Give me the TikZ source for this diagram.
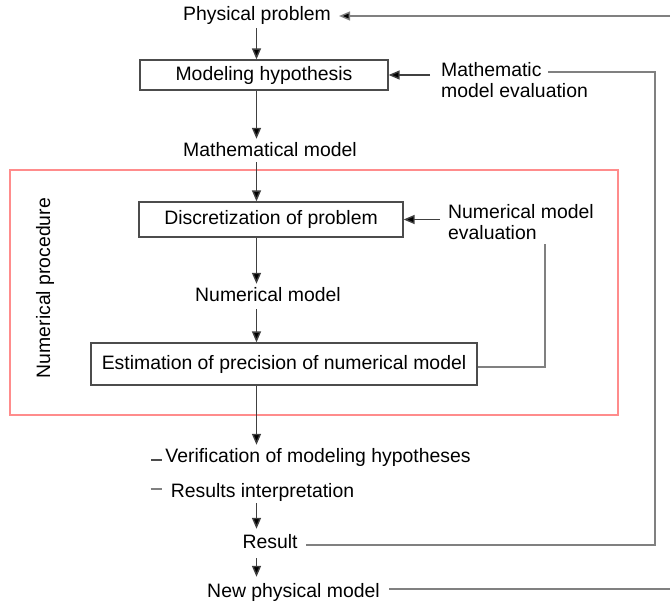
\documentclass[tikz,border=0pt]{standalone}
\usepackage{fontspec}
\setmainfont{Liberation Sans}
\usetikzlibrary{arrows.meta,calc}
\begin{document}
\begin{tikzpicture}[x=1pt,y=-1pt,
  every node/.style={font=\fontsize{19.4}{21.5}\selectfont, inner sep=0pt, text height=14pt, text depth=4pt},
  lbl/.style={},
  procbox/.style={draw=black!70, line width=1.3pt, minimum height=30pt},
  arr/.style={draw=black!75, line width=1.4pt, -{Triangle[length=11pt,width=9pt,fill=black]}},
  feed/.style={draw=black!50, line width=1.4pt},
  frame/.style={draw=red!45, line width=1.1pt}]
\useasboundingbox (0,0) rectangle (670,608);
\coordinate (spine) at (256.5,0);

% main chain
\node[lbl] (pp) at (257,15) {Physical problem};
\node[procbox, minimum width=248pt] (mh) at (264,75) {Modeling hypothesis};
\node[lbl] (mm) at (270,151) {Mathematical model};
\node[frame, minimum width=608pt, minimum height=245pt] (np) at (314,292.5) {};
\node[lbl, rotate=90] (nplabel) at (45,288) {Numerical procedure};
\node[procbox, minimum width=264pt, minimum height=35pt] (dp) at (271,219.5) {Discretization of problem};
\node[lbl] (nm) at (268,296) {Numerical model};
\node[procbox, minimum width=386pt, minimum height=42pt] (ep) at (284,364) {Estimation of precision of numerical model};
\node[lbl] (vh) at (318,457) {Verification of modeling hypotheses};
\node[lbl] (ri) at (262.5,492) {Results interpretation};
\node[lbl] (res) at (270,543) {Result};
\node[lbl] (npm) at (293.5,592) {New physical model};

% evaluation labels
\node[lbl, align=left, anchor=west, text height=, text depth=] (me) at (441,80) {Mathematic\\model evaluation};
\node[lbl, align=left, anchor=west, text height=, text depth=] (ne) at (448,222) {Numerical model\\evaluation};

% feedback routing
\coordinate (meend) at (548,72);
\coordinate (mecorner) at (655,72);
\coordinate (rescorner) at (655,545);
\coordinate (topright) at (670,16);
\coordinate (botright) at (670,589);
\coordinate (nestart) at (545,244);
\coordinate (necorner) at (545,367);

% vertical flow
\draw[arr, shorten <=4pt] (pp.south -| spine) -- (mh.north -| spine);
\draw[arr, shorten >=3pt] (mh.south -| spine) -- (mm.north -| spine);
\draw[arr, shorten <=2pt] (mm.south -| spine) -- (dp.north -| spine);
\draw[arr, shorten >=3pt] (dp.south -| spine) -- (nm.north -| spine);
\draw[arr, shorten <=4pt] (nm.south -| spine) -- (ep.north -| spine);
\draw[arr, shorten >=3pt] (ep.south -| spine) -- (vh.north -| spine);
\draw[arr, shorten <=2pt, shorten >=5pt] (ri.south -| spine) -- (res.north -| spine);
\draw[arr, shorten <=6pt, shorten >=6pt] (res.south -| spine) -- (npm.north -| spine);

% evaluation inputs
\draw[arr, shorten <=11pt] (mh.east -| me.west) -- (mh.east);
\draw[arr, shorten <=8pt] (dp.east -| ne.west) -- (dp.east);

% feedback lines
\draw[feed] (meend) -- (mecorner) -- (rescorner) -- ($(res.east)+(8,2)$);
\draw[feed] (nestart) -- (necorner) -- (necorner -| ep.east);
\draw[feed] (botright) -- ($(npm.east)+(9,-3)$);
\draw[arr, draw=black!50, shorten >=8pt] (topright) -- (topright -| pp.east);

% bullet marks
\draw[feed, draw=black!70, line width=1.1pt] ($(vh.west)+(-14,3)$) -- ($(vh.west)+(-3,3)$);
\draw[feed, line width=1.1pt] ($(ri.west)+(-20,-3)$) -- ($(ri.west)+(-9,-3)$);
\end{tikzpicture}
\end{document}
